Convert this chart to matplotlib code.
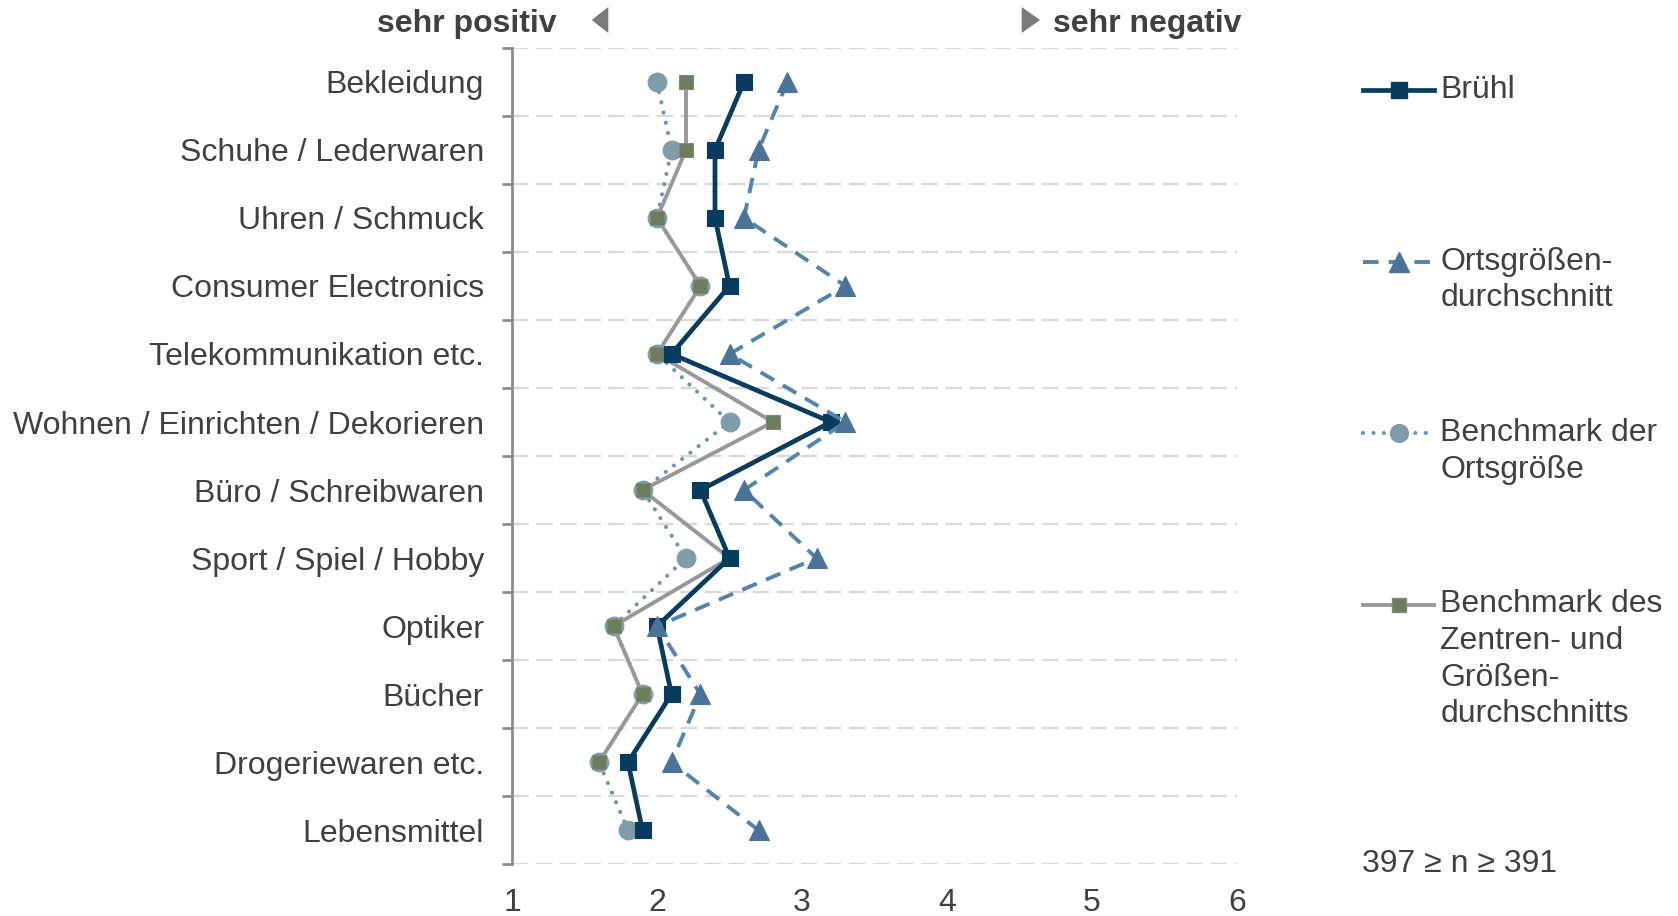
import numpy as np
import matplotlib
matplotlib.use("Agg")
import matplotlib.pyplot as plt
from matplotlib.lines import Line2D
from matplotlib.patches import Polygon

plt.rcParams['font.family'] = ['Liberation Sans', 'DejaVu Sans']

# Daten
categories = ["Bekleidung", "Schuhe / Lederwaren", "Uhren / Schmuck",
              "Consumer Electronics", "Telekommunikation etc.",
              "Wohnen / Einrichten / Dekorieren", "Büro / Schreibwaren",
              "Sport / Spiel / Hobby", "Optiker", "Bücher",
              "Drogeriewaren etc.", "Lebensmittel"]
bruehl = [2.6, 2.4, 2.4, 2.5, 2.1, 3.2, 2.3, 2.5, 2.0, 2.1, 1.8, 1.9]
orts_avg = [2.9, 2.7, 2.6, 3.3, 2.5, 3.3, 2.6, 3.1, 2.0, 2.3, 2.1, 2.7]
bench_ort = [2.0, 2.1, 2.0, 2.3, 2.0, 2.5, 1.9, 2.2, 1.7, 1.9, 1.6, 1.8]
bench_zentren = [2.2, 2.2, 2.0, 2.3, 2.0, 2.8, 1.9, 2.5, 1.7, 1.9, 1.6, np.nan]
x_ticks = [1, 2, 3, 4, 5, 6]
labels = ["Brühl", "Ortsgrößen-\ndurchschnitt", "Benchmark der\nOrtsgröße",
          "Benchmark des\nZentren- und\nGrößen-\ndurchschnitts"]
n_text = "397 ≥ n ≥ 391"

txt = '#404040'
fs = 23

# Stile der Reihen
styles = [
    dict(color='#073c5e', lw=3.4, ls='-', marker='s', ms=12, mfc='#073c5e', mec='#073c5e', z=5),
    dict(color='#5384ab', lw=2.8, ls=(0, (4.0, 2.6)), marker='^', ms=15, mfc='#4b7398', mec='#4b7398', z=6),
    dict(color='#6e95ae', lw=3.0, ls=(0, (0.01, 2.5)), marker='o', ms=13.5, mfc='#7f9cab', mec='#7f9cab', z=3),
    dict(color='#98989c', lw=2.8, ls='-', marker='s', ms=10, mfc='#6b7c5f', mec='#7d8c74', z=4),
]
series = [bruehl, orts_avg, bench_ort, bench_zentren]

fig = plt.figure(figsize=(16.78, 9.16), dpi=100)
ax = fig.add_axes([512 / 1678, 1 - 864.3 / 916, (1237 - 512) / 1678, (864.3 - 47.8) / 916])

y = np.arange(len(categories))
for vals, st in zip(series, styles):
    ax.plot(vals, y, color=st['color'], lw=st['lw'], linestyle=st['ls'],
            marker=st['marker'], markersize=st['ms'], markerfacecolor=st['mfc'],
            markeredgecolor=st['mec'], markeredgewidth=0.8, zorder=st['z'],
            dash_capstyle='round' if st['marker'] == 'o' else 'butt',
            solid_joinstyle='miter')

ax.set_xlim(1, 6)
ax.set_ylim(len(categories) - 0.5, -0.5)

# Achsen
for s in ['top', 'right', 'bottom']:
    ax.spines[s].set_visible(False)
ax.spines['left'].set_color('#8c8c90')
ax.spines['left'].set_linewidth(2)

ax.set_yticks(y)
ax.set_yticklabels(categories, fontsize=fs, color=txt)
ax.tick_params(axis='y', which='major', length=0, pad=20)
ax.set_yticks(np.arange(-0.5, len(categories)), minor=True)
ax.tick_params(axis='y', which='minor', length=7, width=2, color='#8c8c90')

ax.set_xticks(x_ticks)
ax.set_xticklabels([str(v) for v in x_ticks], fontsize=fs, color=txt)
ax.tick_params(axis='x', length=0, pad=17)

for gy in np.arange(-0.5, len(categories)):
    ax.axhline(gy, color='#d9d9d9', lw=1.7, linestyle=(0, (7.0, 3.2)), zorder=1)

# Kopfzeile
fig.text(556.5 / 1678, 1 - 24 / 916, "sehr positiv", fontsize=23, fontweight='bold',
         color=txt, ha='right', va='center')
fig.text(1053 / 1678, 1 - 24 / 916, "sehr negativ", fontsize=23, fontweight='bold',
         color=txt, ha='left', va='center')
W, H = 1678, 916
left_tri = [(608.3 / W, 1 - 7 / H), (608.3 / W, 1 - 33 / H), (591.7 / W, 1 - 20 / H)]
right_tri = [(1021.7 / W, 1 - 7 / H), (1021.7 / W, 1 - 33 / H), (1040 / W, 1 - 20 / H)]
for tri in (left_tri, right_tri):
    fig.add_artist(Polygon(tri, closed=True, transform=fig.transFigure,
                           facecolor='#7a7a7c', edgecolor='none'))

# Legende (manuell)
legend_y = [90, 262, 433, 604.5]
line_h = 36.5
for lab, st, ly in zip(labels, styles, legend_y):
    yf = 1 - ly / H
    fig.add_artist(Line2D([1363 / W, 1434 / W], [yf, yf], transform=fig.transFigure,
                          color=st['color'], lw=st['lw'], linestyle=st['ls'],
                          dash_capstyle='round' if st['marker'] == 'o' else 'butt'))
    fig.add_artist(Line2D([1399 / W], [yf], transform=fig.transFigure,
                          marker=st['marker'], markersize=st['ms'] * 0.95,
                          markerfacecolor=st['mfc'], markeredgecolor=st['mec'],
                          linestyle='none'))
    for i, part in enumerate(lab.split('\n')):
        fig.text(1440.5 / W, 1 - (ly + i * line_h) / H, part, fontsize=fs,
                 color=txt, ha='left', va='center')

fig.text(1361.7 / W, 1 - 864 / H, n_text, fontsize=fs, color=txt, ha='left', va='center')

fig.savefig("out.png", dpi=100)
